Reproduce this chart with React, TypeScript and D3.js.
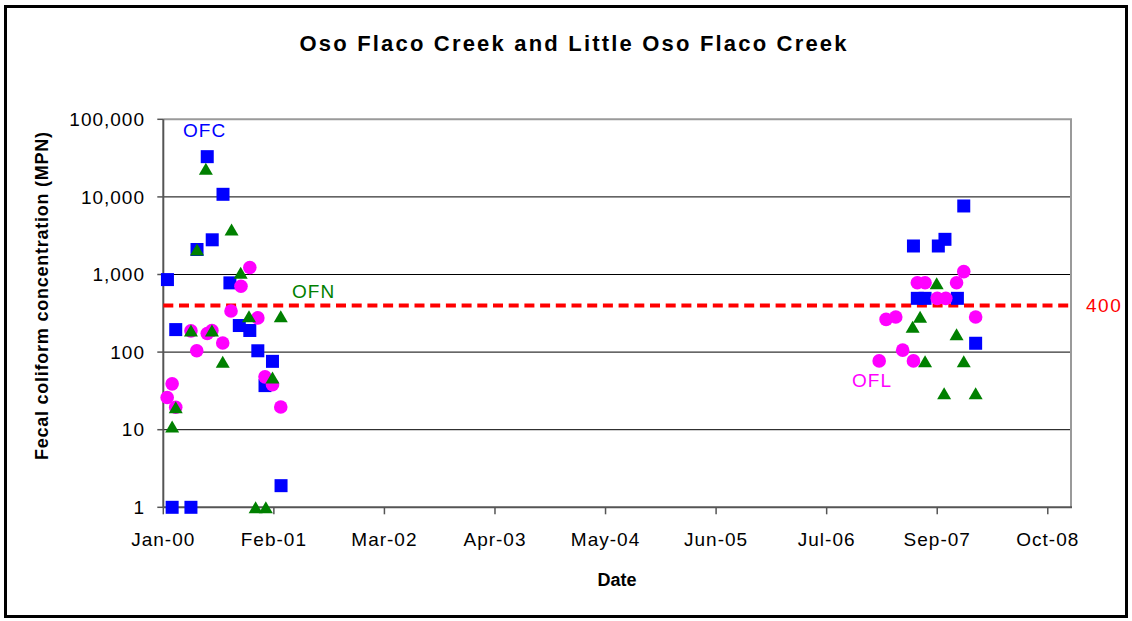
import React from 'react';
import * as d3 from 'd3';

// ---- Data ----
const OFC_DATES = [
  '2000-01-16', '2000-02-15', '2000-02-02', '2000-04-10', '2000-05-02', '2000-06-08',
  '2000-06-26', '2000-08-04', '2000-08-29', '2000-10-02', '2000-11-09', '2000-12-08',
  '2001-01-03', '2001-01-30', '2001-03-02',
  '2007-06-07', '2007-06-21', '2007-07-19', '2007-09-05', '2007-09-29', '2007-11-13',
  '2007-12-06', '2008-01-18',
];
const OFC_VALUES = [
  860, 195, 1, 1, 2100, 33000,
  2800, 10800, 780, 220, 190, 104,
  37, 76, 1.9,
  2330, 493, 493, 2330, 2840, 493,
  7640, 130,
];

const OFN_DATES = [
  '2000-02-02', '2000-02-15', '2000-04-10', '2000-05-02', '2000-06-03', '2000-06-25',
  '2000-08-03', '2000-09-04', '2000-10-07', '2000-11-06', '2000-11-30', '2001-01-06',
  '2001-01-30', '2001-03-01',
  '2007-06-04', '2007-07-01', '2007-07-19', '2007-08-30', '2007-09-26', '2007-11-10',
  '2007-12-06', '2008-01-18',
];
const OFN_VALUES = [
  11, 19.5, 190, 2100, 23000, 190,
  75, 3800, 1050, 290, 1, 1,
  47, 290,
  212, 286, 76, 770, 29.4, 170,
  76, 29.4,
];

const OFL_DATES = [
  '2000-01-15', '2000-02-02', '2000-02-15', '2000-04-10', '2000-05-01', '2000-06-08',
  '2000-06-25', '2000-08-03', '2000-09-02', '2000-10-08', '2000-11-09', '2000-12-08',
  '2001-01-03', '2001-01-30', '2001-03-01',
  '2007-02-03', '2007-02-28', '2007-04-04', '2007-04-29', '2007-06-07', '2007-06-21',
  '2007-07-19', '2007-09-01', '2007-10-02', '2007-11-10', '2007-12-06', '2008-01-18',
];
const OFL_VALUES = [
  26, 39, 19.5, 188, 104, 174,
  190, 131, 339, 705, 1230, 276,
  48, 38, 19.6,
  77, 264, 283, 106, 77, 784,
  784, 493, 493, 784, 1090, 283,
];

const Y_TICKS = [1, 10, 100, 1000, 10000, 100000];
const Y_TICK_LABELS = ['1', '10', '100', '1,000', '10,000', '100,000'];
const X_TICK_LABELS = ['Jan-00', 'Feb-01', 'Mar-02', 'Apr-03', 'May-04', 'Jun-05', 'Jul-06', 'Sep-07', 'Oct-08'];
const X_TICK_STEP_DAYS = 400;
const X_SPAN_DAYS = 3284;
const STANDARD = 400;

const FONT = '"Liberation Sans", Arial, Helvetica, sans-serif';

export default function App() {
  const W = 1132;
  const H = 621;
  const left = 163.3;
  const right = 1071;
  const top = 119.3;
  const bottom = 507.3;

  const parse = d3.utcParse('%Y-%m-%d');
  const start = new Date(Date.UTC(2000, 0, 1));
  const end = d3.utcDay.offset(start, X_SPAN_DAYS);
  const x = d3.scaleUtc().domain([start, end]).range([left, right]);
  const y = d3.scaleLog().domain([1, 100000]).range([bottom, top]);

  const xTicks = X_TICK_LABELS.map((label, i) => ({
    label,
    date: d3.utcDay.offset(start, i * X_TICK_STEP_DAYS),
  }));

  const pts = (dates: string[], vals: number[]) =>
    dates.map((d, i) => ({ cx: x(parse(d) as Date), cy: y(vals[i]) }));

  const ofc = pts(OFC_DATES, OFC_VALUES);
  const ofn = pts(OFN_DATES, OFN_VALUES);
  const ofl = pts(OFL_DATES, OFL_VALUES);

  const sq = 13;
  const triW = 14;
  const triH = 12;

  return (
    <svg
      width={W}
      height={H}
      style={{ position: 'absolute', left: 0, top: 0, background: '#fff' }}
      fontFamily={FONT}
    >
      <rect x={0} y={0} width={W} height={H} fill="#fff" />
      {/* outer frame */}
      <rect x={5.5} y={6.5} width={1121} height={610} fill="none" stroke="#000" strokeWidth={3} />

      {/* title */}
      <text x={573} y={51} textAnchor="middle" fontSize={22} fontWeight="bold" textLength={547} lengthAdjust="spacing">
        Oso Flaco Creek and Little Oso Flaco Creek
      </text>

      {/* gridlines */}
      {Y_TICKS.slice(1, -1).map((t) => (
        <line key={t} x1={left} x2={right} y1={y(t)} y2={y(t)} stroke="#000" strokeWidth={1} />
      ))}
      {/* plot border top/right */}
      <line x1={left} x2={right + 1} y1={top} y2={top} stroke="#9a9a9a" strokeWidth={2} />
      <line x1={right} x2={right} y1={top} y2={bottom} stroke="#9a9a9a" strokeWidth={2} />

      {/* axes */}
      <line x1={left} x2={left} y1={top} y2={bottom} stroke="#555" strokeWidth={2} />
      <line x1={left} x2={right + 1} y1={bottom} y2={bottom} stroke="#555" strokeWidth={2} />
      {Y_TICKS.map((t, i) => (
        <g key={t}>
          <line x1={left - 6} x2={left} y1={y(t)} y2={y(t)} stroke="#555" strokeWidth={1.5} />
          <text x={145} y={y(t)} dy="0.35em" textAnchor="end" fontSize={19} letterSpacing={1}>
            {Y_TICK_LABELS[i]}
          </text>
        </g>
      ))}
      {xTicks.map((t) => (
        <g key={t.label}>
          <line x1={x(t.date)} x2={x(t.date)} y1={bottom} y2={bottom + 7} stroke="#555" strokeWidth={1.5} />
          <text x={x(t.date)} y={546} textAnchor="middle" fontSize={19} letterSpacing={1}>
            {t.label}
          </text>
        </g>
      ))}

      {/* axis titles */}
      <text x={617} y={586} textAnchor="middle" fontSize={18} fontWeight="bold">
        Date
      </text>
      <text
        transform={`translate(48,296) rotate(-90)`}
        textAnchor="middle"
        fontSize={18}
        fontWeight="bold"
        textLength={328}
        lengthAdjust="spacing"
      >
        Fecal coliform concentration (MPN)
      </text>

      {/* standard line */}
      <line
        x1={left}
        x2={right}
        y1={y(STANDARD)}
        y2={y(STANDARD)}
        stroke="#ff0000"
        strokeWidth={4}
        strokeDasharray="10,5.7"
      />
      <text x={1086} y={y(STANDARD)} dy="0.35em" fontSize={19} fill="#ff0000" letterSpacing={1.5}>
        400
      </text>

      {/* series */}
      {ofc.map((p, i) => (
        <rect key={'c' + i} x={p.cx - sq / 2} y={p.cy - sq / 2} width={sq} height={sq} fill="#0000ff" />
      ))}
      {ofl.map((p, i) => (
        <circle key={'l' + i} cx={p.cx} cy={p.cy} r={6.8} fill="#ff00ff" />
      ))}
      {ofn.map((p, i) => (
        <path
          key={'n' + i}
          d={`M${p.cx},${p.cy - triH / 2}L${p.cx + triW / 2},${p.cy + triH / 2}L${p.cx - triW / 2},${p.cy + triH / 2}Z`}
          fill="#008000"
        />
      ))}

      {/* series labels */}
      <text x={183} y={130} dy="0.35em" fontSize={19} fill="#0000ff" letterSpacing={1}>OFC</text>
      <text x={292} y={291} dy="0.35em" fontSize={19} fill="#008000" letterSpacing={1}>OFN</text>
      <text x={852} y={380} dy="0.35em" fontSize={19} fill="#ff00ff" letterSpacing={1}>OFL</text>
    </svg>
  );
}
